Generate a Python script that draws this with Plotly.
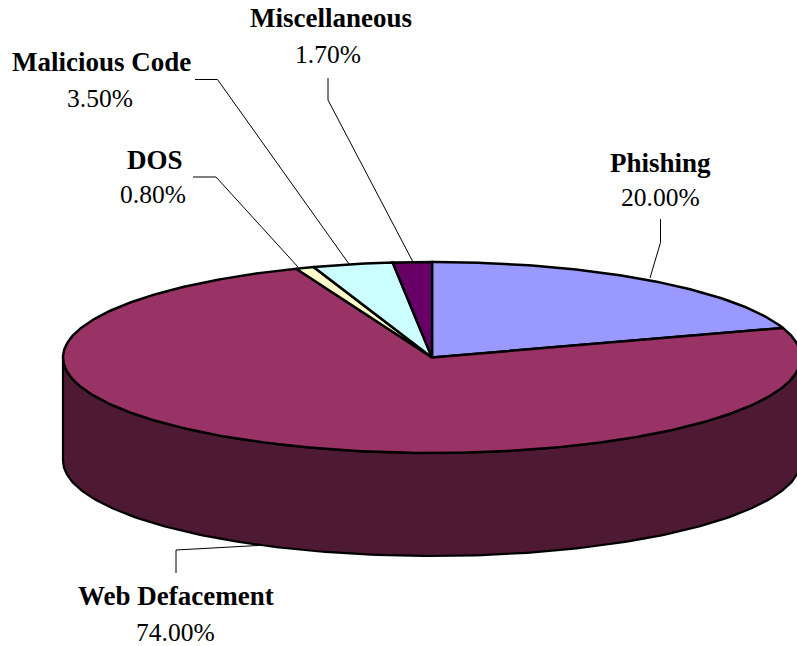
import numpy as np
import plotly.graph_objects as go

# Data
categories = ["Phishing", "Web Defacement", "DOS", "Malicious Code", "Miscellaneous"]
shares = [20.0, 74.0, 0.8, 3.5, 1.7]
share_labels = ["20.00%", "74.00%", "0.80%", "3.50%", "1.70%"]

# Style
slice_colors = ["#9999FF", "#993366", "#FFFFCC", "#CCFFFF", "#660066"]
wall_color = "#4D1933"
W, H = 797, 646
CX, CY, RX, RY, DEPTH = 432.0, 357.5, 369.0, 95.5, 103.0
FONT = "Liberation Serif, Times New Roman, serif"
NAME_SIZE = 27
VALUE_SIZE = 25.5

# Label placement (pixels): name centre, value centre
label_pos = {
    "Phishing": ((660.5, 163), (660, 197)),
    "Web Defacement": ((176, 596), (175, 632)),
    "DOS": ((155, 160), (153, 194)),
    "Malicious Code": ((101, 62), (100, 98)),
    "Miscellaneous": ((331, 18), (328, 54)),
}
# Leader lines (pixels)
leaders = {
    "Phishing": ([660.5, 660.5, 650], [219, 242.5, 278]),
    "Web Defacement": ([176, 176, 267], [573, 550, 545]),
    "DOS": ([193, 216, 298], [177, 177, 267]),
    "Malicious Code": ([195, 217.5, 349], [79.5, 79.5, 264]),
    "Miscellaneous": ([328, 328, 413], [78, 100, 262]),
}


def ell(t, dy=0.0):
    return CX + RX * np.sin(t), CY - RY * np.cos(t) + dy


fig = go.Figure()

for name in categories:
    xs, ys = leaders[name]
    fig.add_trace(go.Scatter(x=xs, y=ys, mode="lines",
                             line=dict(color="black", width=1), hoverinfo="skip"))

# Front wall
t = np.linspace(np.pi / 2, 3 * np.pi / 2, 200)
x1, y1 = ell(t)
x2, y2 = ell(t[::-1], DEPTH)
fig.add_trace(go.Scatter(x=np.r_[x1, x2, x1[0]], y=np.r_[y1, y2, y1[0]], mode="lines",
                         fill="toself", fillcolor=wall_color,
                         line=dict(color="black", width=2.2), hoverinfo="skip"))

# Top slices
cum = np.cumsum([0.0] + shares)
for i, name in enumerate(categories):
    a0 = cum[i] / 100 * 2 * np.pi
    a1 = cum[i + 1] / 100 * 2 * np.pi
    t = np.linspace(a0, a1, max(8, int(shares[i] * 6)))
    x, y = ell(t)
    fig.add_trace(go.Scatter(x=np.r_[CX, x, CX], y=np.r_[CY, y, CY], mode="lines",
                             fill="toself", fillcolor=slice_colors[i], name=name,
                             line=dict(color="black", width=2.5), hoverinfo="skip"))

annotations = []
for i, name in enumerate(categories):
    (nx, ny), (vx, vy) = label_pos[name]
    annotations.append(dict(x=nx, y=ny, text="<b>%s</b>" % name, showarrow=False,
                            xref="x", yref="y", font=dict(family=FONT, size=NAME_SIZE, color="black")))
    annotations.append(dict(x=vx, y=vy, text=share_labels[i], showarrow=False,
                            xref="x", yref="y", font=dict(family=FONT, size=VALUE_SIZE, color="black")))

fig.update_layout(
    width=W, height=H, autosize=False,
    margin=dict(l=0, r=0, t=0, b=0),
    paper_bgcolor="white", plot_bgcolor="white",
    showlegend=False,
    annotations=annotations,
    xaxis=dict(range=[0, W], visible=False, fixedrange=True),
    yaxis=dict(range=[H, 0], visible=False, fixedrange=True),
)
fig.write_html("out.html", config=dict(displayModeBar=False),
               post_script="document.body.style.margin='0';document.body.style.overflow='hidden';")
